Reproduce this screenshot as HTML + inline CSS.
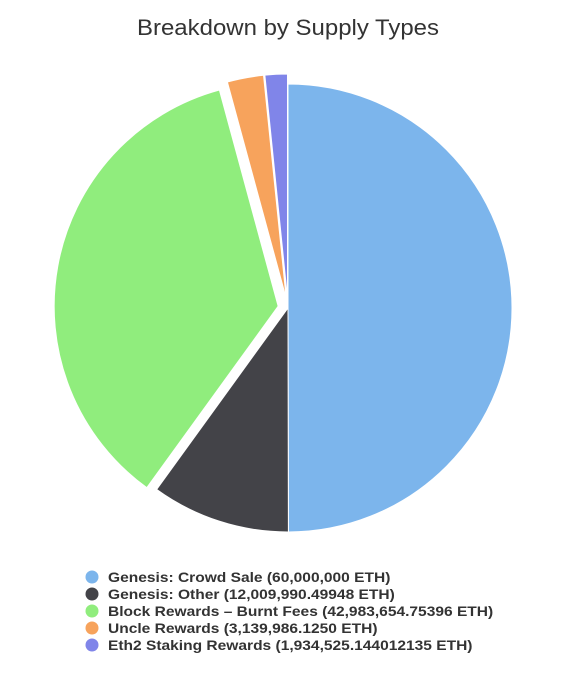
<!DOCTYPE html>
<html><head><meta charset="utf-8"><style>
html,body{margin:0;padding:0;background:#fff;width:570px;height:686px;overflow:hidden}
</style></head><body>
<svg id="chart" width="570" height="686" xmlns="http://www.w3.org/2000/svg">
<rect width="570" height="686" fill="#fff"/>
<text x="288" y="35" text-anchor="middle" font-family="Liberation Sans, sans-serif" font-size="22" fill="#333" textLength="302" lengthAdjust="spacingAndGlyphs">Breakdown by Supply Types</text>
<g id="slices"></g>
<g id="legend"></g>
</svg>
<script>
const categories = ["Genesis: Crowd Sale","Genesis: Other","Block Rewards - Burnt Fees","Uncle Rewards","Eth2 Staking Rewards"];
const values = [60000000, 12009990.49948, 42983654.75396, 3139986.1250, 1934525.144012135];
const labels = ["Genesis: Crowd Sale (60,000,000 ETH)","Genesis: Other (12,009,990.49948 ETH)","Block Rewards \u2013 Burnt Fees (42,983,654.75396 ETH)","Uncle Rewards (3,139,986.1250 ETH)","Eth2 Staking Rewards (1,934,525.144012135 ETH)"];
const sliced = [false,false,true,true,true];
const colors = ["#7cb5ec","#434348","#90ed7d","#f7a35c","#8085e9"];
const NS="http://www.w3.org/2000/svg";
const cx=288, cy=308, r=224, off=10;
const total=values.reduce((a,b)=>a+b,0);
const g=document.getElementById('slices');
let a0=0;
values.forEach((v,i)=>{
  const a1=a0+v/total*2*Math.PI;
  const mid=(a0+a1)/2;
  const dx=sliced[i]?off*Math.sin(mid):0, dy=sliced[i]?-off*Math.cos(mid):0;
  const x0=cx+dx+r*Math.sin(a0), y0=cy+dy-r*Math.cos(a0);
  const x1=cx+dx+r*Math.sin(a1), y1=cy+dy-r*Math.cos(a1);
  const large=(a1-a0)>Math.PI?1:0;
  const p=document.createElementNS(NS,'path');
  p.setAttribute('d',`M${cx+dx},${cy+dy}L${x0},${y0}A${r},${r} 0 ${large} 1 ${x1},${y1}Z`);
  p.setAttribute('fill',colors[i]);
  p.setAttribute('stroke','#fff');
  p.setAttribute('stroke-width','1');
  
  
  g.appendChild(p);
  a0=a1;
});
const lg=document.getElementById('legend');
labels.forEach((t,i)=>{
  const y=577+i*17;
  const c=document.createElementNS(NS,'circle');
  c.setAttribute('cx',92);c.setAttribute('cy',y);c.setAttribute('r',6.5);c.setAttribute('fill',colors[i]);
  
  
  lg.appendChild(c);
  const tx=document.createElementNS(NS,'text');
  tx.setAttribute('x',108);tx.setAttribute('y',y+5);
  tx.setAttribute('font-family','Liberation Sans, sans-serif');
  tx.setAttribute('font-size','14');tx.setAttribute('font-weight','bold');tx.setAttribute('fill','#333');
  tx.textContent=t;
  
  
  lg.appendChild(tx);
  const w=tx.getComputedTextLength();
  tx.setAttribute('textLength', (w*1.11).toFixed(1));
  tx.setAttribute('lengthAdjust','spacingAndGlyphs');
});
</script>
</body></html>
